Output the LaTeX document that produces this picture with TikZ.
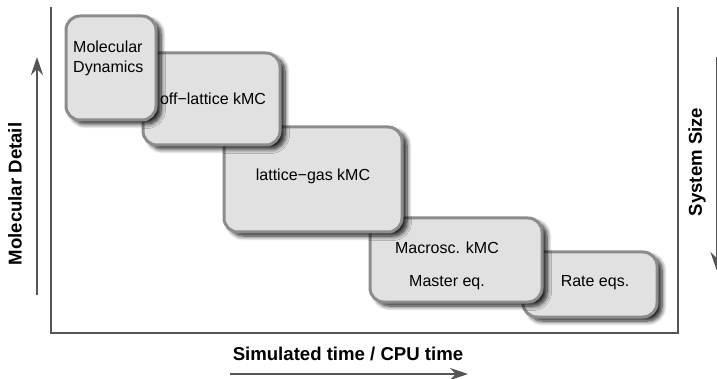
\documentclass[tikz,border=0pt]{standalone}
\usepackage{fontspec}
\setmainfont{Liberation Sans}
\usetikzlibrary{arrows.meta}
\usetikzlibrary{shadows,shadows.blur}
\definecolor{framegray}{HTML}{555555}
\definecolor{boxfill}{HTML}{E1E1E1}
\definecolor{boxline}{HTML}{8C8C8C}

\tikzset{
	method/.style={draw=boxline, fill=boxfill, line width=3pt, rounded corners=14pt,
		blur shadow={shadow xshift=5pt, shadow yshift=-4pt, shadow blur steps=8, shadow blur radius=4.5pt, shadow opacity=90}},
	axisline/.style={draw=framegray, line width=2pt},
	arr/.style={framegray, line width=2pt, -{Stealth[length=18pt,width=12pt]}},
	lbl/.style={font=\fontsize{18.6}{22}\selectfont\bfseries},
	txt/.style={font=\fontsize{16}{20}\selectfont}
}

\begin{document}
\begin{tikzpicture}[x=1pt,y=-1pt]
	\clip (0,0) rectangle (717,379);
	% frame and axes
	\draw[axisline] (51,7) -- (51,333) -- (678,333) -- (678,7);
	\coordinate (dlow) at (37,295);
	\coordinate (dhigh) at (37,57);
	\coordinate (slow) at (716.5,57);
	\coordinate (shigh) at (716.5,270);
	\coordinate (tlow) at (230,374);
	\coordinate (thigh) at (468,374);
	\draw[arr] (dlow) -- (dhigh);
	\draw[arr] (slow) -- (shigh);
	\draw[arr] (tlow) -- (thigh);
	\node[lbl, rotate=90] (detail) at (15,194) {Molecular Detail};
	\node[lbl, rotate=90] (size) at (697,162) {System Size};
	\node[lbl] (simtime) at (348,354) {Simulated time / CPU time};
	% methods, back to front
	\draw[method] (523,252) rectangle (657,317);
	\node[txt] (rate) at (595,283) {Rate eqs.};
	\draw[method] (370,218) rectangle (542,302);
	\node[txt, align=center] (macro) at (447,265.5) {Macrosc. kMC\\[13pt]Master eq.};
	\draw[method] (224,127) rectangle (402,232);
	\node[txt] (lattice) at (313,176) {lattice−gas kMC};
	\draw[method] (143,53) rectangle (280,145);
	\node[txt] (offlattice) at (213,99) {off−lattice kMC};
	\draw[method] (66,16) rectangle (156,120);
	\node[txt, anchor=north west, align=left, inner sep=0pt] (md) at (73,41) {Molecular\\Dynamics};
\end{tikzpicture}
\end{document}
